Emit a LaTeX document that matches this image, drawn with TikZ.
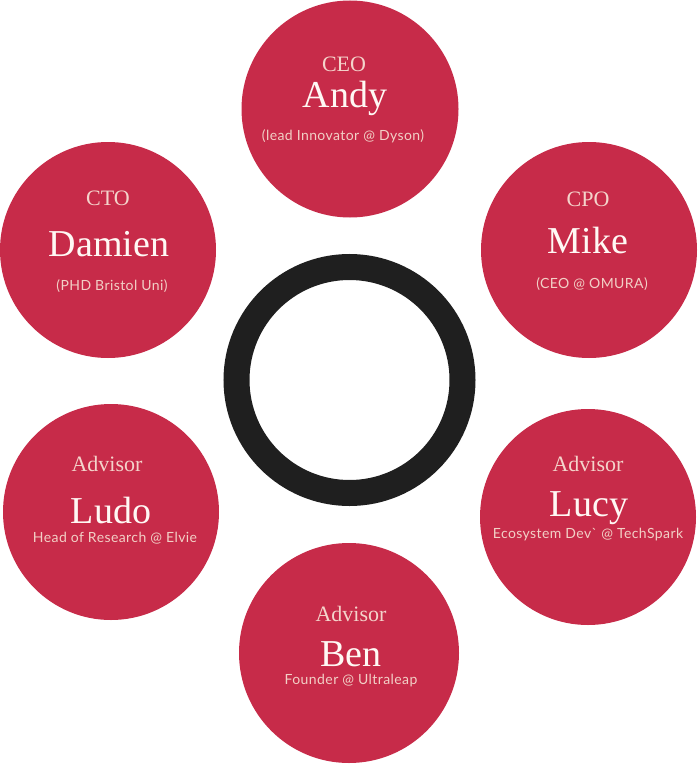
\documentclass[tikz,border=0pt]{standalone}
\usepackage{fontspec}
\setmainfont{Liberation Serif}
\newfontfamily\subfont[LetterSpace=3]{Lato}
\definecolor{crim}{HTML}{C72B49}
\definecolor{roletxt}{HTML}{F4D4CB}
\definecolor{nametxt}{HTML}{FFF8F4}
\definecolor{subtxt}{HTML}{F2D0C6}
\definecolor{ringc}{HTML}{1F1F1F}
\tikzset{
  member/.style={circle, fill=crim, draw=none, minimum size=#1, inner sep=0pt},
  role/.style={text=roletxt, font=\fontsize{22}{24}\selectfont, inner sep=0pt},
  pname/.style={text=nametxt, font=\fontsize{38}{40}\selectfont, inner sep=0pt},
  sub/.style={text=subtxt, font=\subfont\fontsize{14}{16}\selectfont, inner sep=0pt},
}
\begin{document}
\begin{tikzpicture}[x=1pt,y=-1pt]
\useasboundingbox (0,0) rectangle (697,765);
% center ring
\node[circle, draw=ringc, line width=26pt, minimum size=226pt, inner sep=0pt] (ring) at (349.5,380) {};
% circles
\node[member=217pt] (andy) at (350,109) {};
\node[member=216pt] (damien) at (108,250) {};
\node[member=216pt] (mike) at (589,250) {};
\node[member=216pt] (ludo) at (111,512) {};
\node[member=216pt] (lucy) at (588,517) {};
\node[member=220pt] (ben) at (349,653) {};
% Andy
\node[role] (andyr) at (344,64) {CEO};
\node[pname] (andyn) at (345,98) {Andy};
\node[sub] (andys) at (343,136) {(lead Innovator @ Dyson)};
% Damien
\node[role] (damienr) at (108,198) {CTO};
\node[pname] (damienn) at (109,244) {Damien};
\node[sub] (damiens) at (112,286) {(PHD Bristol Uni)};
% Mike
\node[role] (miker) at (588,199) {CPO};
\node[pname] (miken) at (588,241) {Mike};
\node[sub] (mikes) at (592,284) {(CEO @ OMURA)};
% Ludo
\node[role] (ludor) at (107,464) {Advisor};
\node[pname] (ludon) at (111,510) {Ludo};
\node[sub] (ludos) at (115,538) {Head of Research @ Elvie};
% Lucy
\node[role] (lucyr) at (588,464) {Advisor};
\node[pname] (lucyn) at (589,508) {Lucy};
\node[sub] (lucys) at (588,535) {Ecosystem Dev` @ TechSpark};
% Ben
\node[role] (benr) at (351,614) {Advisor};
\node[pname] (benn) at (351,654) {Ben};
\node[sub] (bens) at (351,681) {Founder @ Ultraleap};
\end{tikzpicture}
\end{document}
